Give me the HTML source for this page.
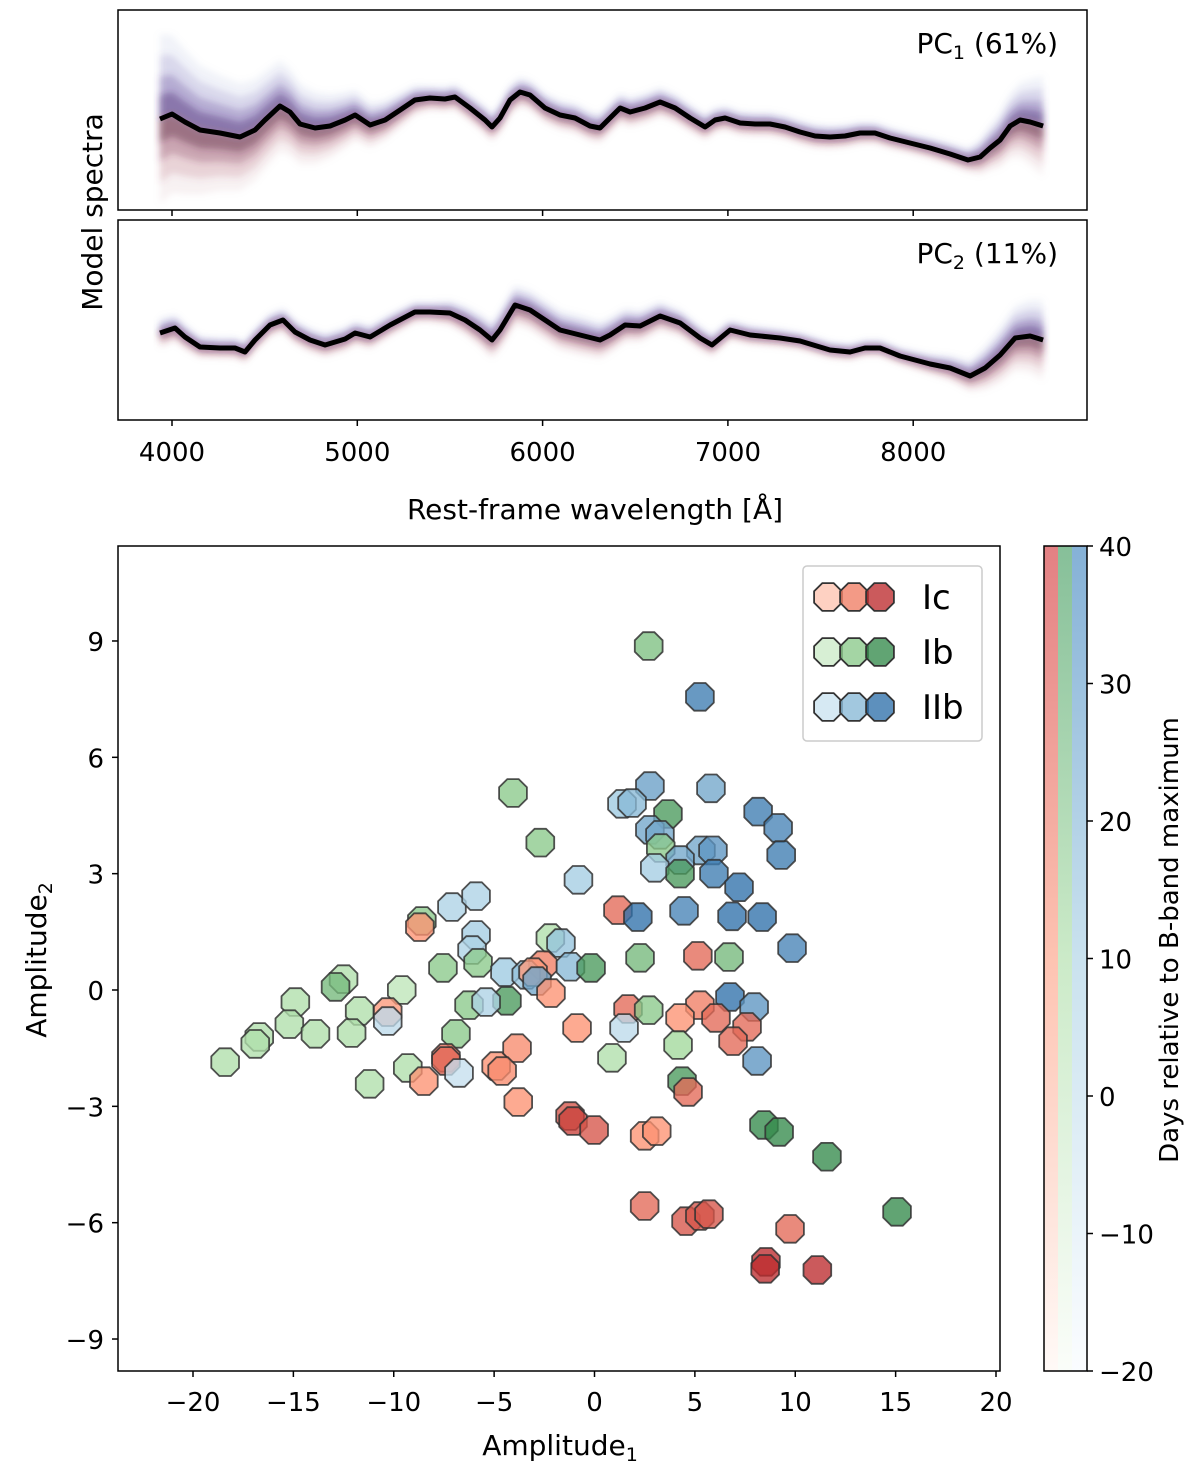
<!DOCTYPE html>
<html><head><meta charset="utf-8"><style>
body{margin:0;background:#fff;}
svg text{font-family:"DejaVu Sans","Liberation Sans",sans-serif;fill:#000;}
</style></head><body>
<svg id="fig" width="1200" height="1469" viewBox="0 0 1200 1469" xmlns="http://www.w3.org/2000/svg">
<defs>
<linearGradient id="gR" x1="0" y1="1" x2="0" y2="0"><stop offset="0" stop-color="#fff5f0"/><stop offset="0.5" stop-color="#fc9272"/><stop offset="1" stop-color="#cb181d"/></linearGradient>
<linearGradient id="gG" x1="0" y1="1" x2="0" y2="0"><stop offset="0" stop-color="#f7fcf5"/><stop offset="0.5" stop-color="#a1d99b"/><stop offset="1" stop-color="#238b45"/></linearGradient>
<linearGradient id="gB" x1="0" y1="1" x2="0" y2="0"><stop offset="0" stop-color="#f7fbff"/><stop offset="0.5" stop-color="#9ecae1"/><stop offset="1" stop-color="#2171b5"/></linearGradient>
<filter id="blur" x="-5%" y="-50%" width="110%" height="200%"><feGaussianBlur stdDeviation="3.5"/></filter>
<clipPath id="c1"><rect x="118" y="10" width="969" height="200"/></clipPath>
<clipPath id="c2"><rect x="118" y="220" width="969" height="200"/></clipPath>
</defs>
<g id="spec1" clip-path="url(#c1)"></g>
<g id="spec2" clip-path="url(#c2)"></g>
<rect x="118" y="10" width="969" height="200" fill="none" stroke="#000" stroke-width="1.5"/>
<rect x="118" y="220" width="969" height="200" fill="none" stroke="#000" stroke-width="1.5"/>
<text x="1058" y="53" text-anchor="end" font-size="28">PC<tspan font-size="19" dy="6">1</tspan><tspan dy="-6"> (61%)</tspan></text>
<text x="1058" y="263" text-anchor="end" font-size="28">PC<tspan font-size="19" dy="6">2</tspan><tspan dy="-6"> (11%)</tspan></text>
<text transform="translate(102,212) rotate(-90)" text-anchor="middle" font-size="28">Model spectra</text>
<g id="wticks"></g>
<text x="595" y="519" text-anchor="middle" font-size="28">Rest-frame wavelength [Å]</text>

<rect x="118" y="546" width="882" height="825" fill="none" stroke="#000" stroke-width="1.5"/>
<g id="points"></g>
<g id="sticks"></g>
<text x="560" y="1455" text-anchor="middle" font-size="28">Amplitude<tspan font-size="19" dy="6">1</tspan></text>
<text transform="translate(46,960) rotate(-90)" text-anchor="middle" font-size="28">Amplitude<tspan font-size="19" dy="6">2</tspan></text>

<g>
<rect x="803" y="566" width="179" height="175" rx="4" fill="#fff" fill-opacity="0.8" stroke="#ccc" stroke-width="1.5"/>
<g id="legItems"></g>
</g>

<g>
<rect x="1044" y="546" width="14" height="825" fill="url(#gR)" fill-opacity="0.55"/>
<rect x="1058" y="546" width="14" height="825" fill="url(#gG)" fill-opacity="0.55"/>
<rect x="1072" y="546" width="15" height="825" fill="url(#gB)" fill-opacity="0.55"/>
<rect x="1044" y="546" width="43" height="825" fill="none" stroke="#000" stroke-width="1.5"/>
<g id="cticks"></g>
<text transform="translate(1178,940) rotate(-90)" text-anchor="middle" font-size="26">Days relative to B-band maximum</text>
</g>
</svg>
<script>
const NS="http://www.w3.org/2000/svg";
// ---- spectra data ----
const wave1=[3935,4000,4070,4151,4259,4367,4448,4502,4583,4637,4691,4772,4853,4934,4988,5069,5150,5231,5311,5392,5473,5527,5608,5689,5727,5770,5824,5878,5932,6013,6094,6175,6256,6310,6364,6418,6472,6553,6634,6715,6796,6877,6931,6985,7066,7147,7227,7308,7389,7470,7551,7632,7713,7794,7875,7983,8091,8199,8296,8361,8415,8469,8523,8577,8631,8701];
const flux1=[0.91,0.96,0.88,0.80,0.77,0.73,0.80,0.90,1.04,0.98,0.86,0.82,0.84,0.90,0.95,0.85,0.90,1.00,1.10,1.12,1.11,1.13,1.02,0.90,0.83,0.92,1.10,1.18,1.15,1.02,0.95,0.92,0.84,0.82,0.92,1.02,0.98,1.02,1.08,1.02,0.92,0.83,0.90,0.92,0.87,0.86,0.86,0.83,0.78,0.74,0.73,0.74,0.77,0.77,0.72,0.67,0.62,0.56,0.50,0.53,0.62,0.70,0.84,0.90,0.88,0.84];
const wave2=[3935,4016,4070,4151,4259,4340,4394,4448,4529,4599,4664,4745,4826,4934,4988,5069,5177,5311,5392,5500,5581,5662,5727,5770,5851,5932,6013,6094,6202,6310,6364,6445,6526,6634,6742,6850,6914,7012,7120,7281,7389,7551,7659,7740,7821,7929,8091,8199,8307,8388,8469,8550,8631,8701];
const flux2=[0.87,0.92,0.83,0.73,0.72,0.72,0.68,0.80,0.95,1.00,0.88,0.80,0.75,0.81,0.87,0.83,0.95,1.08,1.08,1.07,1.00,0.90,0.80,0.90,1.15,1.10,1.00,0.90,0.85,0.80,0.85,0.95,0.94,1.04,0.97,0.82,0.75,0.90,0.85,0.82,0.79,0.70,0.68,0.72,0.72,0.64,0.56,0.52,0.44,0.52,0.65,0.82,0.84,0.80];
// band half-widths (flux units) vs wavelength
const bandWave=[3935,4200,4600,5000,5400,5800,6200,6600,7000,7500,8000,8300,8500,8701];
const band1=[0.85,0.6,0.45,0.25,0.12,0.15,0.15,0.15,0.12,0.12,0.1,0.12,0.3,0.5];
const band2=[0.15,0.1,0.12,0.12,0.1,0.2,0.2,0.15,0.1,0.08,0.08,0.15,0.3,0.4];
const wX=w=>172+(w-4000)*0.1853;
function interp(xs,ys,x){for(let i=1;i<xs.length;i++){if(x<=xs[i]){const t=(x-xs[i-1])/(xs[i]-xs[i-1]);return ys[i-1]+t*(ys[i]-ys[i-1]);}}return ys[ys.length-1];}
function drawSpec(g,wave,flux,band,bottom){
  const yS=f=>bottom-f*100;
  const layers=[[1.0,0.12,"#8aa0d0","#c08a90"],[0.75,0.18,"#6a60b0","#a85060"],[0.5,0.28,"#5a3a8e","#7a2a50"],[0.28,0.4,"#4a2a70","#5a2040"]];
  for(const [k,op,cu,cl] of layers){
    for(const side of [1,-1]){
      const pts1=[],pts2=[];
      for(let i=0;i<wave.length;i++){const b=interp(bandWave,band,wave[i])*k;
        pts1.push(wX(wave[i]).toFixed(1)+","+yS(flux[i]).toFixed(1));
        pts2.push(wX(wave[i]).toFixed(1)+","+yS(flux[i]+side*b).toFixed(1));}
      const p=document.createElementNS(NS,"polygon");
      p.setAttribute("points",pts1.concat(pts2.reverse()).join(" "));
      p.setAttribute("fill",side>0?cu:cl);p.setAttribute("fill-opacity",op);
      p.setAttribute("filter","url(#blur)");
      
      
      g.appendChild(p);
    }
  }
  const l=document.createElementNS(NS,"polyline");
  l.setAttribute("points",wave.map((w,i)=>wX(w).toFixed(1)+","+yS(flux[i]).toFixed(1)).join(" "));
  l.setAttribute("fill","none");l.setAttribute("stroke","#000");l.setAttribute("stroke-width","5");l.setAttribute("stroke-linejoin","round");
  
  
  g.appendChild(l);
}
drawSpec(document.getElementById("spec1"),wave1,flux1,band1,210);
drawSpec(document.getElementById("spec2"),wave2,flux2,band2,420);
const wTicks=[4000,5000,6000,7000,8000];
const wt=document.getElementById("wticks");
for(const w of wTicks){const x=wX(w);
  for(const y0 of [210,420]){const t=document.createElementNS(NS,"line");t.setAttribute("x1",x);t.setAttribute("x2",x);t.setAttribute("y1",y0);t.setAttribute("y2",y0+6);t.setAttribute("stroke","#000");t.setAttribute("stroke-width","1.5");wt.appendChild(t);}
  const tx=document.createElementNS(NS,"text");tx.setAttribute("x",x);tx.setAttribute("y",461);tx.setAttribute("text-anchor","middle");tx.setAttribute("font-size","26");tx.textContent=w;
  
  
  wt.appendChild(tx);}
// ---- scatter data ----
const amp1=[2.7,5.25,-4.06,2.76,5.8,1.37,1.87,3.66,8.15,-2.7,9.15,2.76,3.26,3.3,9.3,5.3,5.9,4.26,3.0,4.26,5.95,7.2,-0.8,-8.6,-7.1,-5.9,1.17,2.16,4.46,6.85,8.35,-8.7,-5.9,-2.2,-1.67,-6.1,9.84,2.27,5.15,6.7,-7.55,-5.8,-2.57,-1.2,-0.17,-4.46,-3.4,-3.06,-2.86,-12.5,-12.9,-9.6,-2.17,6.75,-14.9,-11.7,-10.3,-10.3,-6.25,-4.36,-5.4,1.67,2.7,5.25,6.05,4.26,7.95,7.6,1.47,-0.87,-15.2,-13.9,-12.1,-16.7,-16.9,-6.9,6.9,4.16,-3.86,0.87,-7.4,-7.4,8.1,-18.4,-9.3,-6.75,-4.9,-4.6,-8.5,-11.2,4.36,4.66,-3.8,-1.22,-1.07,-0.02,8.44,9.2,2.5,3.1,11.58,2.5,4.56,5.25,5.7,15.07,9.74,8.54,8.5,11.1];
const amp2=[8.87,7.56,5.08,5.26,5.2,4.8,4.82,4.54,4.6,3.8,4.18,4.13,4.0,3.66,3.48,3.6,3.6,3.35,3.15,3.0,3.0,2.65,2.84,1.78,2.14,2.42,2.06,1.88,2.04,1.9,1.88,1.62,1.42,1.34,1.21,1.03,1.08,0.83,0.88,0.85,0.57,0.7,0.64,0.6,0.57,0.46,0.39,0.46,0.23,0.28,0.08,0,-0.08,-0.18,-0.31,-0.54,-0.57,-0.8,-0.39,-0.28,-0.31,-0.49,-0.52,-0.39,-0.72,-0.72,-0.44,-0.95,-0.98,-0.98,-0.88,-1.13,-1.11,-1.21,-1.39,-1.13,-1.32,-1.42,-1.5,-1.75,-1.75,-1.83,-1.83,-1.86,-2.01,-2.14,-1.96,-2.09,-2.35,-2.42,-2.35,-2.63,-2.89,-3.25,-3.38,-3.61,-3.48,-3.66,-3.76,-3.64,-4.3,-5.57,-5.96,-5.83,-5.78,-5.72,-6.16,-7.01,-7.19,-7.22];
const sntype=["Ib","IIb","Ib","IIb","IIb","IIb","IIb","Ib","IIb","Ib","IIb","IIb","IIb","Ib","IIb","IIb","IIb","IIb","IIb","Ib","IIb","IIb","IIb","Ib","IIb","IIb","Ic","IIb","IIb","IIb","IIb","Ic","IIb","Ib","IIb","IIb","IIb","Ib","Ic","Ib","Ib","Ib","Ic","IIb","Ib","IIb","IIb","Ic","IIb","Ib","Ib","Ib","Ic","IIb","Ib","Ib","Ic","IIb","Ib","Ib","IIb","Ic","Ib","Ic","Ic","Ic","IIb","Ic","IIb","Ic","Ib","Ib","Ib","Ib","Ib","Ib","Ic","Ib","Ic","Ib","Ic","Ic","IIb","Ib","Ib","IIb","Ic","Ic","Ic","Ib","Ib","Ic","Ic","Ic","Ic","Ic","Ib","Ib","Ic","Ic","Ib","Ic","Ic","Ic","Ic","Ib","Ic","Ic","Ic","Ic"];
const days=[18,32,15,22,20,10,15,30,32,15,30,20,20,15,32,20,25,20,8,30,32,35,8,15,5,5,20,35,30,35,35,10,8,5,12,5,30,20,20,20,15,15,15,15,30,10,12,8,20,5,20,0,10,35,5,5,8,0,15,30,5,20,15,15,20,10,25,20,0,10,5,5,5,5,5,15,20,10,12,5,20,20,25,5,5,-3,10,12,10,5,30,20,10,25,30,25,35,35,10,10,35,20,25,25,25,35,20,35,35,35];
const xS=v=>594.5+v*20.075, yS2=v=>990-v*38.78;
const cmaps={Ic:["#fff5f0","#fc9272","#b01820"],Ib:["#f7fcf5","#a1d99b","#1e7a3c"],IIb:["#f7fbff","#9ecae1","#1a5fa0"]};
function hex(h){return [1,3,5].map(i=>parseInt(h.substr(i,2),16));}
function cmap(type,d){let t=Math.max(0,Math.min(1,(d+20)/60));const c=cmaps[type];let a,b,u;
  if(t<0.5){a=hex(c[0]);b=hex(c[1]);u=t*2;}else{a=hex(c[1]);b=hex(c[2]);u=(t-0.5)*2;}
  return "rgb("+a.map((v,i)=>Math.round(v+(b[i]-v)*u)).join(",")+")";}
function octagon(cx,cy,r){const p=[];for(let k=0;k<8;k++){const a=Math.PI/8+k*Math.PI/4;p.push((cx+r*Math.cos(a)).toFixed(1)+","+(cy+r*Math.sin(a)).toFixed(1));}return p.join(" ");}
const pg=document.getElementById("points");
for(let i=0;i<amp1.length;i++){
  const o=document.createElementNS(NS,"polygon");
  o.setAttribute("points",octagon(xS(amp1[i]),yS2(amp2[i]),15));
  o.setAttribute("fill",cmap(sntype[i],days[i]));o.setAttribute("fill-opacity","0.78");
  o.setAttribute("stroke","#333");o.setAttribute("stroke-width","1.8");o.setAttribute("stroke-opacity","0.85");
  
  
  pg.appendChild(o);
}
// axes ticks
const xTicks=[-20,-15,-10,-5,0,5,10,15,20];
const yTicks=[9,6,3,0,-3,-6,-9];
const st=document.getElementById("sticks");
function ln(g,x1,y1,x2,y2){const t=document.createElementNS(NS,"line");t.setAttribute("x1",x1);t.setAttribute("x2",x2);t.setAttribute("y1",y1);t.setAttribute("y2",y2);t.setAttribute("stroke","#000");t.setAttribute("stroke-width","1.5");g.appendChild(t);}
function lab(g,x,y,s,anchor,name){const t=document.createElementNS(NS,"text");t.setAttribute("x",x);t.setAttribute("y",y);t.setAttribute("text-anchor",anchor);t.setAttribute("font-size","26");t.textContent=s;
  
  
  g.appendChild(t);}
const fmt=v=>v<0?"\u2212"+(-v):String(v);
for(const v of xTicks){const x=xS(v);ln(st,x,1371,x,1377);lab(st,x,1411,fmt(v),"middle","x-tick-label");}
for(const v of yTicks){const y=yS2(v);ln(st,112,y,118,y);lab(st,104,y+10,fmt(v),"end","y-tick-label");}
// colorbar ticks
const cTicks=[40,30,20,10,0,-10,-20];
const ct=document.getElementById("cticks");
for(const v of cTicks){const y=1371-(v+20)/60*825;ln(ct,1087,y,1093,y);lab(ct,1099,y+10,fmt(v),"start","colorbar-tick-label");}
// legend
const legTypes=["Ic","Ib","IIb"];
const legDays=[-5,15,35];
const lg=document.getElementById("legItems");
legTypes.forEach((tp,j)=>{const cy=597+j*55;
  legDays.forEach((d,k)=>{const o=document.createElementNS(NS,"polygon");o.setAttribute("points",octagon(828+k*26,cy,15));
    o.setAttribute("fill",cmap(tp,d));o.setAttribute("fill-opacity","0.78");o.setAttribute("stroke","#333");o.setAttribute("stroke-width","1.8");
    
    
    lg.appendChild(o);});
  const t=document.createElementNS(NS,"text");t.setAttribute("x",922);t.setAttribute("y",cy+12);t.setAttribute("font-size","34");t.textContent=tp;
  
  
  lg.appendChild(t);});
</script>
</body></html>
